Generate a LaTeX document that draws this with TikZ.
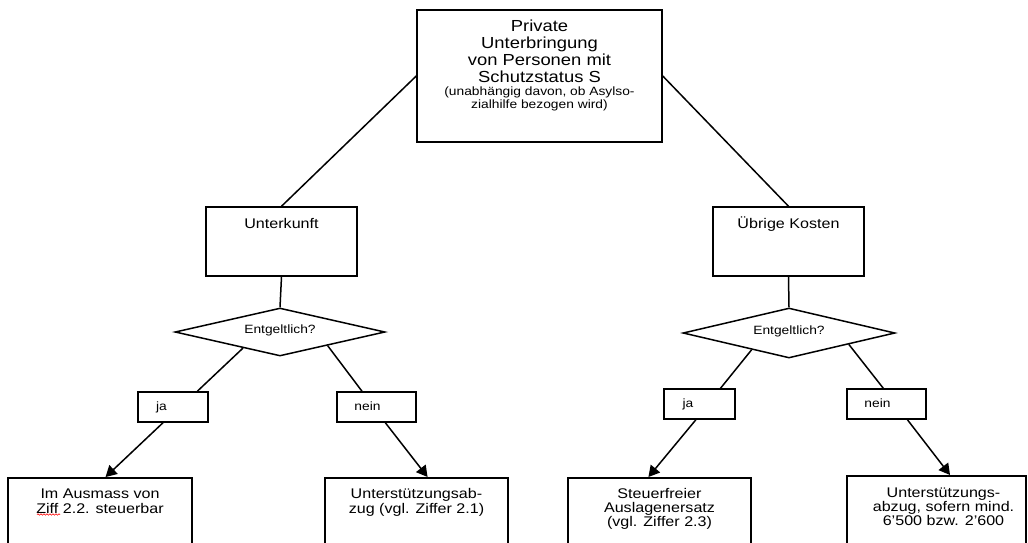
\documentclass[tikz,border=0pt]{standalone}
\usepackage{fontspec}
\setmainfont{Liberation Sans}[FakeStretch=1.15]
\usetikzlibrary{shapes.geometric,arrows.meta,calc,decorations.pathmorphing}
\begin{document}
\begin{tikzpicture}[x=1pt,y=-1pt,
  box/.style={draw, line width=1.5pt, rectangle, inner sep=0pt},
  dia/.style={draw, line width=1.5pt, diamond, inner sep=0pt},
  conn/.style={line width=1.5pt},
  arr/.style={line width=1.5pt, -{Triangle[length=11pt,width=12pt]}},
  bigtxt/.style={inner sep=0pt, align=center, font=\fontsize{16}{17}\selectfont},
  smalltxt/.style={inner sep=0pt, align=center, font=\fontsize{12}{11}\selectfont},
  midtxt/.style={inner sep=0pt, align=center, font=\fontsize{14}{15}\selectfont},
  lbltxt/.style={inner sep=0pt, font=\fontsize{12}{13}\selectfont},
  leaftxt/.style={inner sep=0pt, align=center, font=\fontsize{14}{14.5}\selectfont},
  leaftxtr/.style={inner sep=0pt, align=center, font=\fontsize{14}{14}\selectfont}
]
\clip (0,0) rectangle (1028,542);
\fill[white] (0,0) rectangle (1028,542);

% boxes
\node[box, minimum width=245pt, minimum height=132pt] (top) at (539.5,76) {};
\node[box, minimum width=151pt, minimum height=69pt] (unter) at (281.5,241.5) {};
\node[box, minimum width=151pt, minimum height=69pt] (uebrig) at (788.5,241.5) {};
\node[dia, aspect=4.375, minimum width=210pt, minimum height=48pt] (d1) at (280,332) {};
\node[dia, aspect=4.24, minimum width=212pt, minimum height=50pt] (d2) at (789,333) {};
\node[box, minimum width=70pt, minimum height=30pt] (ja1) at (173,407) {};
\node[box, minimum width=79pt, minimum height=30pt] (nein1) at (376.5,407) {};
\node[box, minimum width=71pt, minimum height=30pt] (ja2) at (699.5,404) {};
\node[box, minimum width=79pt, minimum height=30pt] (nein2) at (886.5,404) {};
\node[box, anchor=north, minimum width=184pt, minimum height=100pt] (b1) at (100,477) {};
\node[box, anchor=north, minimum width=183pt, minimum height=100pt] (b2) at (416.5,477) {};
\node[box, anchor=north, minimum width=183pt, minimum height=100pt] (b3) at (659.5,477) {};
\node[box, anchor=north, minimum width=179pt, minimum height=100pt] (b4) at (936.5,475) {};

% texts
\node[bigtxt, anchor=north] (ttop) at (539.5,20) {Private\\Unterbringung\\von Personen mit\\Schutzstatus S};
\node[smalltxt, anchor=north] (tsmall) at (539.5,87) {(unabhängig davon, ob Asylso-\\zialhilfe bezogen wird)};
\node[midtxt, anchor=base] (tunter) at (281.5,228) {Unterkunft};
\node[midtxt, anchor=base] (tuebrig) at (788.5,228) {Übrige Kosten};
\node[lbltxt, anchor=base] (tq1) at (280,333) {Entgeltlich?};
\node[lbltxt, anchor=base] (tq2) at (789,334) {Entgeltlich?};
\node[lbltxt, anchor=base] (tja1) at (161.5,410.5) {ja};
\node[lbltxt, anchor=base] (tnein1) at (367.5,410.5) {nein};
\node[lbltxt, anchor=base] (tja2) at (688,407.5) {ja};
\node[lbltxt, anchor=base] (tnein2) at (877.5,407.5) {nein};
\node[leaftxt, anchor=north] (tb1) at (100,489) {Im Ausmass von\\Ziff 2.2. steuerbar};
\node[leaftxt, anchor=north] (tb2) at (416.5,488.5) {Unterstützungsab-\\zug (vgl. Ziffer 2.1)};
\node[leaftxtr, anchor=north] (tb3) at (659.5,488) {Steuerfreier\\Auslagenersatz\\(vgl. Ziffer 2.3)};
\node[leaftxtr, anchor=north] (tb4) at (943.5,487.5) {Unterstützungs-\\abzug, sofern mind.\\6'500 bzw. 2'600};

% spell-check underline
\draw[red, line width=0.6pt, decorate, decoration={snake, amplitude=0.7pt, segment length=3pt}] (37,514.5) -- (60,514.5);

% connectors
\draw[conn] (top.west) -- (unter.north);
\draw[conn] (top.east) -- (uebrig.north);
\draw[conn] (unter.south) -- (d1.north);
\draw[conn] (uebrig.south) -- (d2.north);
\draw[conn] ($(d1.west)!0.65!(d1.south)$) -- ($(ja1.north west)!0.84!(ja1.north east)$);
\draw[conn] ($(d1.south)!0.45!(d1.east)$) -- ($(nein1.north west)!0.32!(nein1.north east)$);
\draw[conn] ($(d2.west)!0.65!(d2.south)$) -- ($(ja2.north west)!0.79!(ja2.north east)$);
\draw[conn] ($(d2.south)!0.56!(d2.east)$) -- ($(nein2.north west)!0.46!(nein2.north east)$);
\draw[arr] ($(ja1.south west)!0.36!(ja1.south east)$) -- ($(b1.north west)!0.53!(b1.north east)$);
\draw[arr] ($(nein1.south west)!0.61!(nein1.south east)$) -- ($(b2.north west)!0.56!(b2.north east)$);
\draw[arr] ($(ja2.south west)!0.45!(ja2.south east)$) -- ($(b3.north west)!0.44!(b3.north east)$);
\draw[arr] ($(nein2.south west)!0.76!(nein2.south east)$) -- ($(b4.north west)!0.575!(b4.north east)$);
\end{tikzpicture}
\end{document}
